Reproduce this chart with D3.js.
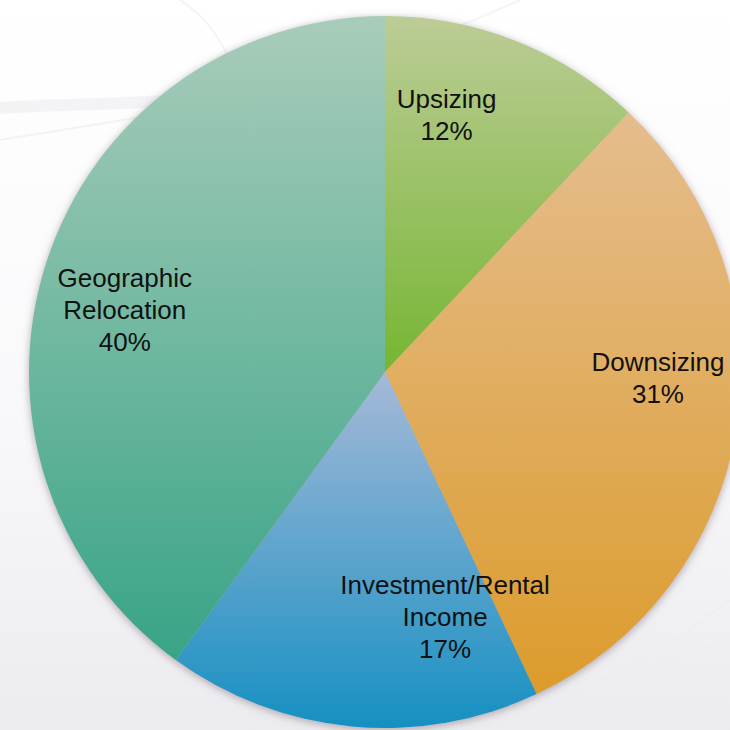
<!DOCTYPE html>
<html>
<head>
<meta charset="utf-8">
<script src="https://cdn.jsdelivr.net/npm/d3@7"></script>
<style>
  body { margin: 0; background: #fff; }
  svg { display: block; }
</style>
</head>
<body>
<svg id="chart" width="730" height="730"></svg>
<script>
// data
var categories = ["Upsizing", "Downsizing", "Investment/Rental Income", "Geographic Relocation"];
var values = [12, 31, 17, 40];
var labelLines = [["Upsizing"], ["Downsizing"], ["Investment/Rental", "Income"], ["Geographic", "Relocation"]];

// gradient colours per slice (top -> bottom)
var topColors = ["#bccc96", "#e5bd8e", "#a6b9d8", "#a9ccba"];
var bottomColors = ["#76b632", "#dc9c2c", "#1690c2", "#38a487"];
// nudges of label centres from the arc centroid, px
var labelNudge = [[-36, -10], [11, -35], [85, -19], [-8, 20]];

var width = 730, height = 730;
var cx = 385, cy = 372, R = 356;

var svg = d3.select('#chart');
var defs = svg.append('defs');

// background
var bg = defs.append('linearGradient').attr('id', 'bg')
  .attr('x1', 0).attr('y1', 0).attr('x2', 0).attr('y2', 1);
bg.append('stop').attr('offset', '0%').attr('stop-color', '#ffffff');
bg.append('stop').attr('offset', '55%').attr('stop-color', '#f9f9fb');
bg.append('stop').attr('offset', '100%').attr('stop-color', '#ececf0');
svg.append('rect').attr('width', width).attr('height', height).attr('fill', 'url(#bg)');

// faint swooshes behind the pie
var swoosh = [
  "M0,108 C120,100 260,110 420,60",
  "M0,140 C150,115 300,100 520,0",
  "M180,0 C210,20 220,40 230,60",
  "M500,720 C600,690 680,640 730,600",
  "M420,730 C560,700 660,660 730,640"
];
svg.selectAll('path.swoosh')
  .data(swoosh)
  .enter().append('path')
  .attr('class', 'swoosh')
  .attr('d', function(d) { return d; })
  .attr('fill', 'none')
  .attr('stroke', '#ececf0')
  .attr('stroke-width', function(d, i) { return i === 0 ? 12 : 2; })
  .attr('opacity', 0.6);

// shadow for the pie
var f = defs.append('filter').attr('id', 'shadow')
  .attr('x', '-10%').attr('y', '-10%').attr('width', '120%').attr('height', '120%');
f.append('feDropShadow')
  .attr('dx', 0).attr('dy', 2)
  .attr('stdDeviation', 4)
  .attr('flood-color', '#7a6a72')
  .attr('flood-opacity', 0.55);

values.forEach(function(v, i) {
  var g = defs.append('linearGradient').attr('id', 'grad' + i)
    .attr('x1', 0).attr('y1', 0).attr('x2', 0).attr('y2', 1);
  g.append('stop').attr('offset', '0%').attr('stop-color', topColors[i]);
  g.append('stop').attr('offset', '100%').attr('stop-color', bottomColors[i]);
});

var pie = d3.pie().sort(null).value(function(d) { return d; });
var arcs = pie(values);
var arc = d3.arc().innerRadius(0).outerRadius(R);
var labelArc = d3.arc().innerRadius(R * 0.5).outerRadius(R * 0.99);

var chart = svg.append('g').attr('transform', 'translate(' + cx + ',' + cy + ')');

chart.append('g')
  .attr('filter', 'url(#shadow)')
  .selectAll('path')
  .data(arcs)
  .enter().append('path')
  .attr('d', arc)
  .attr('fill', function(d, i) { return 'url(#grad' + i + ')'; });

var lineH = 32;
var labels = chart.selectAll('text.label')
  .data(arcs)
  .enter().append('text')
  .attr('class', 'label')
  .attr('text-anchor', 'middle')
  .style('font-family', "'Liberation Sans', Arial, sans-serif")
  .style('font-size', '26px')
  .attr('fill', '#111')
  .attr('transform', function(d, i) {
    var c = labelArc.centroid(d);
    return 'translate(' + (c[0] + labelNudge[i][0]) + ',' + (c[1] + labelNudge[i][1]) + ')';
  });

labels.each(function(d, i) {
  var lines = labelLines[i].concat([values[i] + '%']);
  var t = d3.select(this);
  var y0 = -(lines.length - 1) * lineH / 2 + 9;
  lines.forEach(function(s, k) {
    t.append('tspan').attr('x', 0).attr('y', y0 + k * lineH).text(s);
  });
});
</script>
</body>
</html>
